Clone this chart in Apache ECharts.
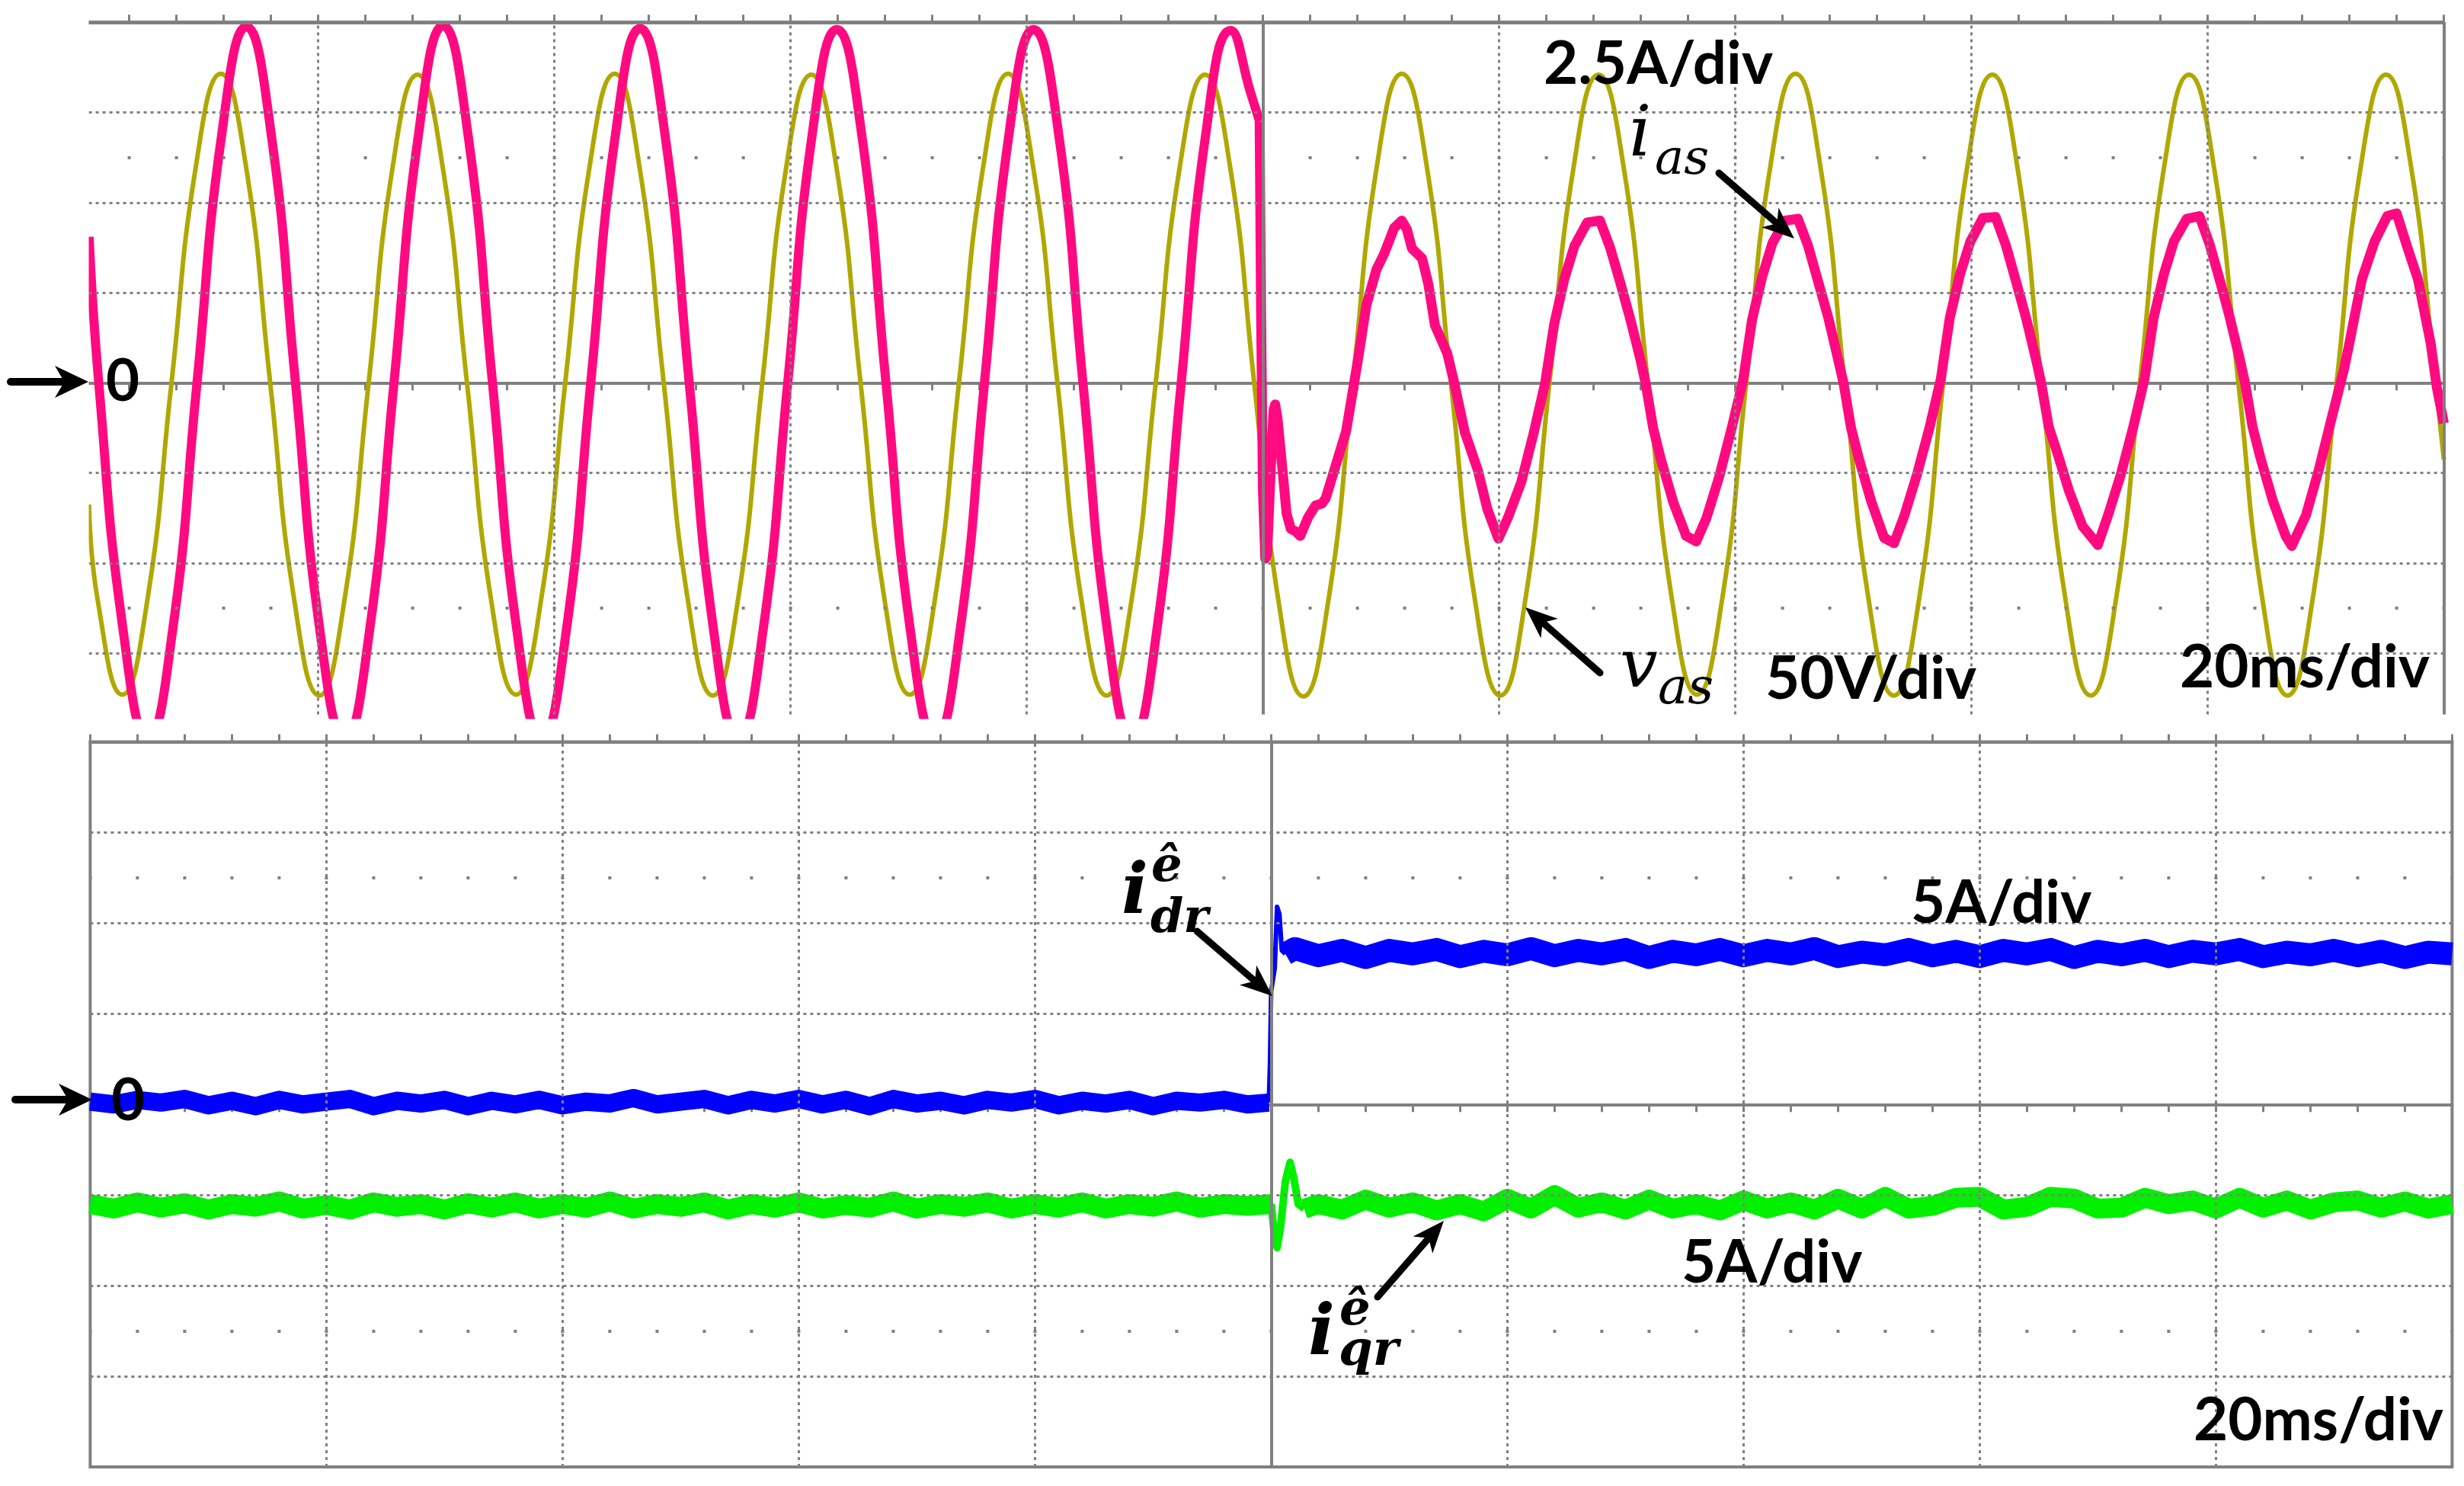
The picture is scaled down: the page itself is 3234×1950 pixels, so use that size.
<!DOCTYPE html>
<html>
<head>
<meta charset="utf-8">
<script src="https://cdn.jsdelivr.net/npm/echarts@6/dist/echarts.min.js"></script>
<style>
html,body{margin:0;padding:0;background:#fff;}
#c{width:3234px;height:1950px;}
</style>
</head>
<body>
<div id="c"></div>
<script>
// ---- data (time in divisions, 20 ms/div; amplitude in divisions) ----
const vasData = [[0.03,-1.35],[0.067,-2.42],
[0.171,-3.46],[0.275,-2.44],[0.379,0.0],[0.484,2.43],[0.588,3.43],[0.692,2.44],[0.796,0.02],[0.900,-2.43],
[1.005,-3.47],[1.109,-2.45],[1.213,-0.02],[1.317,2.42],[1.421,3.42],[1.525,2.43],[1.630,0.0],[1.734,-2.44],
[1.838,-3.46],[1.942,-2.44],[2.046,0.0],[2.151,2.43],[2.255,3.43],[2.359,2.42],[2.463,0.0],[2.567,-2.44],
[2.671,-3.47],[2.775,-2.45],[2.880,0.0],[2.984,2.43],[3.088,3.42],[3.192,2.43],[3.296,0.01],[3.400,-2.44],
[3.505,-3.46],[3.609,-2.44],[3.713,0.0],[3.817,2.42],[3.921,3.43],[4.025,2.43],[4.130,0.0],[4.234,-2.45],
[4.338,-3.47],[4.442,-2.44],[4.546,0.0],[4.650,2.43],[4.755,3.42],[4.859,2.43],[4.963,0.0],[5.067,-2.44],
[5.171,-3.48],[5.275,-2.45],[5.380,0.0],[5.484,2.43],[5.588,3.43],[5.692,2.43],[5.796,0.0],[5.900,-2.45],
[6.005,-3.47],[6.109,-2.44],[6.213,0.0],[6.317,2.42],[6.421,3.42],[6.525,2.43],[6.630,0.0],[6.734,-2.44],
[6.838,-3.46],[6.942,-2.44],[7.046,0.0],[7.150,2.43],[7.255,3.43],[7.359,2.42],[7.463,0.0],[7.567,-2.45],
[7.671,-3.47],[7.775,-2.45],[7.880,0.0],[7.984,2.43],[8.088,3.42],[8.192,2.43],[8.296,0.0],[8.400,-2.44],
[8.505,-3.47],[8.609,-2.45],[8.713,0.0],[8.817,2.42],[8.921,3.42],[9.025,2.42],[9.130,0.0],[9.234,-2.44],
[9.338,-3.47],[9.442,-2.44],[9.546,0.0],[9.650,2.43],[9.755,3.42],[9.859,2.43],[9.963,0.05],[10.0,-0.85]];

const iasBefore = [[0.03,1.62],[0.071,0.0],[0.175,-2.76],
[0.279,-3.95],[0.383,-2.76],[0.487,0.0],[0.592,2.76],[0.696,3.95],[0.800,2.78],[0.904,0.0],[1.008,-2.76],
[1.113,-3.95],[1.217,-2.76],[1.321,0.0],[1.425,2.76],[1.529,3.96],[1.633,2.78],[1.738,0.0],[1.842,-2.76],
[1.946,-3.95],[2.050,-2.76],[2.154,0.0],[2.259,2.76],[2.363,3.93],[2.467,2.78],[2.571,0.0],[2.675,-2.76],
[2.779,-3.95],[2.883,-2.76],[2.988,0.0],[3.092,2.76],[3.196,3.92],[3.300,2.78],[3.404,0.0],[3.508,-2.76],
[3.613,-3.95],[3.717,-2.76],[3.821,0.0],[3.925,2.76],[4.029,3.92],[4.134,2.78],[4.238,0.0],[4.342,-2.76],
[4.446,-3.95],[4.550,-2.76],[4.654,0.0],[4.758,2.76],[4.863,3.91],[4.950,3.2],[4.986,2.9]];

const iasAfter = [[4.986,2.9],[4.992,0.8],[5.000,-1.2],[5.010,-1.95],[5.018,-1.9],[5.031,-1.08],[5.045,-0.3],[5.052,-0.24],[5.062,-0.4],[5.083,-0.97],[5.10,-1.45],[5.118,-1.62],[5.14,-1.65],[5.158,-1.70],[5.19,-1.5],[5.223,-1.36],[5.25,-1.34],[5.266,-1.28],[5.309,-0.91],[5.352,-0.54],[5.38,-0.1],[5.405,0.3],[5.438,0.86],[5.481,1.26],[5.513,1.43],[5.556,1.72],[5.588,1.8],[5.610,1.7],[5.631,1.49],[5.674,1.38],[5.70,1.1],[5.728,0.64],[5.78,0.33],[5.81,0.0],[5.855,-0.55],[5.91,-0.97],[5.95,-1.40],[5.997,-1.73],
[6.04,-1.48],[6.094,-1.1],[6.147,-0.55],[6.195,0.0],[6.233,0.65],[6.276,1.15],[6.319,1.52],[6.373,1.78],[6.427,1.8],[6.47,1.5],[6.512,1.12],[6.556,0.7],[6.599,0.25],[6.62,0.0],[6.652,-0.5],[6.685,-0.85],[6.738,-1.33],[6.792,-1.70],
[6.835,-1.76],[6.878,-1.5],[6.932,-1.04],[6.985,-0.5],[7.033,0.03],[7.071,0.7],[7.114,1.18],[7.157,1.55],[7.211,1.8],[7.265,1.82],[7.308,1.52],[7.35,1.13],[7.394,0.72],[7.437,0.24],[7.458,0.0],[7.49,-0.5],[7.523,-0.84],[7.576,-1.32],[7.63,-1.72],
[7.672,-1.78],[7.715,-1.48],[7.769,-1.02],[7.822,-0.5],[7.87,0.04],[7.908,0.72],[7.951,1.2],[7.994,1.56],[8.048,1.83],[8.102,1.84],[8.145,1.53],[8.187,1.14],[8.231,0.72],[8.274,0.25],[8.295,0.0],[8.327,-0.49],[8.36,-0.75],[8.413,-1.2],[8.47,-1.59],
[8.535,-1.8],[8.578,-1.47],[8.632,-1.02],[8.685,-0.49],[8.733,0.05],[8.771,0.72],[8.814,1.20],[8.857,1.57],[8.911,1.82],[8.965,1.85],[9.008,1.54],[9.05,1.15],[9.094,0.72],[9.137,0.25],[9.158,0.0],[9.19,-0.49],[9.223,-0.83],[9.276,-1.31],[9.33,-1.70],
[9.356,-1.81],[9.416,-1.47],[9.47,-0.97],[9.524,-0.40],[9.578,0.16],[9.60,0.44],[9.653,1.15],[9.707,1.57],[9.76,1.85],[9.80,1.88],[9.847,1.49],[9.89,1.15],[9.944,0.44],[9.97,-0.05],[10.0,-0.45]];

const idrBefore = [[0.0,0.03],[0.1,0.0],[0.2,0.05],[0.3,0.02],[0.4,0.06],[0.5,-0.01],[0.6,0.04],[0.7,-0.02],[0.8,0.05],[0.9,0.0],[1.0,0.03],[1.1,0.06],[1.2,-0.02],[1.3,0.04],[1.4,0.01],[1.5,0.05],[1.6,-0.02],[1.7,0.04],[1.8,0.0],[1.9,0.05],[2.0,-0.01],[2.1,0.03],[2.2,0.01],[2.3,0.07],[2.4,0.0],[2.5,0.03],[2.6,0.06],[2.7,-0.01],[2.8,0.05],[2.9,0.01],[3.0,0.06],[3.1,0.0],[3.2,0.05],[3.3,-0.02],[3.4,0.06],[3.5,0.01],[3.6,0.04],[3.7,-0.01],[3.8,0.05],[3.9,0.02],[4.0,0.06],[4.1,-0.01],[4.2,0.04],[4.3,0.01],[4.4,0.05],[4.5,-0.02],[4.6,0.04],[4.7,0.02],[4.8,0.05],[4.9,0.0],[4.99,0.02]];
const idrStep = [[4.99,0.02],[4.995,0.45],[5.0,1.25],[5.015,1.5],[5.025,2.18],[5.035,2.1],[5.045,1.7],[5.06,1.66]];
const idrAfter = [[5.06,1.66],[5.1,1.72],[5.2,1.64],[5.3,1.7],[5.4,1.62],[5.5,1.7],[5.6,1.66],[5.7,1.71],[5.8,1.63],[5.9,1.69],[6.0,1.65],[6.1,1.72],[6.2,1.64],[6.3,1.7],[6.4,1.66],[6.5,1.71],[6.6,1.62],[6.7,1.69],[6.8,1.65],[6.9,1.71],[7.0,1.64],[7.1,1.7],[7.2,1.66],[7.3,1.72],[7.4,1.63],[7.5,1.68],[7.6,1.65],[7.7,1.71],[7.8,1.64],[7.9,1.69],[8.0,1.63],[8.1,1.7],[8.2,1.66],[8.3,1.71],[8.4,1.62],[8.5,1.69],[8.6,1.65],[8.7,1.7],[8.8,1.63],[8.9,1.69],[9.0,1.66],[9.1,1.71],[9.2,1.63],[9.3,1.68],[9.4,1.65],[9.5,1.7],[9.6,1.64],[9.7,1.69],[9.8,1.62],[9.9,1.68],[10.0,1.66]];

const iqrBefore = [[0.0,-1.1],[0.1,-1.15],[0.2,-1.08],[0.3,-1.14],[0.4,-1.09],[0.5,-1.16],[0.6,-1.1],[0.7,-1.13],[0.8,-1.07],[0.9,-1.15],[1.0,-1.11],[1.1,-1.16],[1.2,-1.08],[1.3,-1.13],[1.4,-1.1],[1.5,-1.16],[1.6,-1.09],[1.7,-1.14],[1.8,-1.08],[1.9,-1.15],[2.0,-1.1],[2.1,-1.14],[2.2,-1.07],[2.3,-1.15],[2.4,-1.1],[2.5,-1.13],[2.6,-1.08],[2.7,-1.16],[2.8,-1.1],[2.9,-1.14],[3.0,-1.08],[3.1,-1.15],[3.2,-1.11],[3.3,-1.14],[3.4,-1.07],[3.5,-1.15],[3.6,-1.1],[3.7,-1.13],[3.8,-1.08],[3.9,-1.15],[4.0,-1.1],[4.1,-1.14],[4.2,-1.08],[4.3,-1.15],[4.4,-1.1],[4.5,-1.13],[4.6,-1.07],[4.7,-1.14],[4.8,-1.1],[4.9,-1.12],[5.0,-1.1]];
const iqrStep = [[5.0,-1.1],[5.012,-1.4],[5.025,-1.58],[5.04,-1.35],[5.06,-0.85],[5.08,-0.64],[5.095,-0.8],[5.115,-1.1],[5.14,-1.15]];
const iqrAfter = [[5.14,-1.15],[5.2,-1.1],[5.3,-1.16],[5.4,-1.05],[5.5,-1.14],[5.6,-1.08],[5.7,-1.17],[5.8,-1.1],[5.9,-1.18],[6.0,-1.04],[6.1,-1.15],[6.2,-1.0],[6.3,-1.14],[6.4,-1.08],[6.5,-1.16],[6.6,-1.05],[6.7,-1.15],[6.8,-1.1],[6.9,-1.17],[7.0,-1.06],[7.1,-1.15],[7.2,-1.08],[7.3,-1.16],[7.4,-1.04],[7.5,-1.15],[7.6,-1.02],[7.7,-1.15],[7.8,-1.12],[7.9,-1.03],[8.0,-1.02],[8.1,-1.16],[8.2,-1.13],[8.3,-1.02],[8.4,-1.04],[8.5,-1.15],[8.6,-1.14],[8.7,-1.03],[8.8,-1.1],[8.9,-1.06],[9.0,-1.15],[9.1,-1.03],[9.2,-1.14],[9.3,-1.06],[9.4,-1.16],[9.5,-1.08],[9.6,-1.06],[9.7,-1.14],[9.8,-1.07],[9.9,-1.15],[10.0,-1.1]];

const gridDivX = [1,2,3,4,6,7,8,9];
const gridDivY = [3,2,1,-1,-2,-3];
const dotRowsY = [2.5,-2.5];

// ---- styles ----
const GRAY = '#808080';
const C_V = '#B0A800', C_I = '#FF0A80', C_D = '#0000FF', C_Q = '#00F000';

function gridLines(extra){
  const d=[];
  gridDivX.forEach(v=>d.push({xAxis:v}));
  gridDivY.forEach(v=>d.push({yAxis:v}));
  dotRowsY.forEach(v=>d.push({yAxis:v, lineStyle:{type:[4,58], dashOffset:2, width:4}}));
  d.push({xAxis:5, lineStyle:{type:'solid', width:4}});
  return d.concat(extra||[]);
}
function frameSeries(xi, yi, extra){
  return {type:'line', xAxisIndex:xi, yAxisIndex:yi, data:[[5,0]], showSymbol:false, symbol:'none',
    lineStyle:{opacity:0}, z:1, silent:true,
    markLine:{symbol:['none','none'], silent:true, animation:false, label:{show:false},
      emphasis:{disabled:true}, lineStyle:{color:GRAY, width:3, type:[4,5]}, data:gridLines(extra)}};
}
function trace(xi, yi, data, color, width, smooth, z){
  return {type:'line', xAxisIndex:xi, yAxisIndex:yi, data:data, showSymbol:false, symbol:'none',
    smooth:smooth, clip:true, z:z, silent:true, lineStyle:{color:color, width:width, join:'round'}};
}
function xAx(gi, pos){
  return {type:'value', gridIndex:gi, min:0, max:10, interval:1, position:pos,
    axisLine:{show:true, onZero:true, lineStyle:{color:GRAY, width:4}},
    axisTick:{show:true, length:10, lineStyle:{color:GRAY, width:3}},
    minorTick:{show:true, splitNumber:5, length:10, lineStyle:{color:GRAY, width:3}},
    axisLabel:{show:false}, splitLine:{show:false}, minorSplitLine:{show:false}};
}
function yAx(gi, mn, mx){
  return {type:'value', gridIndex:gi, min:mn, max:mx, axisLine:{show:false}, axisTick:{show:false},
    axisLabel:{show:false}, splitLine:{show:false}};
}

// annotation helpers (layout only)
function arrow(x1,y1,x2,y2,w,hl,hw){
  const dx=x2-x1, dy=y2-y1, L=Math.hypot(dx,dy), ux=dx/L, uy=dy/L, px=-uy, py=ux;
  const bx=x2-ux*hl, by=y2-uy*hl, nx=x2-ux*hl*0.72, ny=y2-uy*hl*0.72;
  return [
    {type:'line', shape:{x1:x1,y1:y1,x2:nx,y2:ny}, style:{stroke:'#000', lineWidth:w, lineCap:'round'}, z:100},
    {type:'polygon', shape:{points:[[x2,y2],[bx+px*hw,by+py*hw],[nx,ny],[bx-px*hw,by-py*hw]]}, style:{fill:'#000'}, z:100}
  ];
}
function txt(x,y,text,font,align){
  return {type:'text', x:x, y:y, z:101, style:{text:text, font:font, fill:'#000',
    textAlign:align||'left', textVerticalAlign:'middle'}};
}
const F_LBL = 'bold 78px Lato';
const F_ZERO = 'bold 76px Lato';
const SERIF = '"DejaVu Serif"';

const graphics = [].concat(
  // the scope capture of the upper panel starts slightly right of its first division
  [{type:'rect', shape:{x:96, y:18, width:20.5, height:925}, style:{fill:'#ffffff'}, z:50, silent:true}],
  arrow(14,501,116,501,10,44,21),
  arrow(20,1443,121,1443,10,44,21),
  arrow(2256,227,2355,313,9,42,17),
  arrow(2100,883,2002,797,9,42,17),
  arrow(1571,1222,1670,1307,9,42,17),
  arrow(1808,1702,1895,1602,9,42,17),
  [
    txt(161,501,'0',F_ZERO,'center'),
    txt(168,1445,'0',F_ZERO,'center'),
    txt(2026,85,'2.5A/div',F_LBL),
    txt(2317,892,'50V/div',F_LBL),
    txt(2861,877,'20ms/div',F_LBL),
    txt(2879,1865,'20ms/div',F_LBL),
    txt(2508,1186,'5A/div',F_LBL),
    txt(2207,1658,'5A/div',F_LBL),
    txt(2138,180,'i','italic 92px '+SERIF), txt(2172,211,'as','italic 64px '+SERIF),
    txt(2126,878,'v','italic 88px '+SERIF), txt(2176,906,'as','italic 66px '+SERIF),
    txt(1472,1174,'i','bold italic 92px '+SERIF), txt(1511,1139,'ê','bold italic 64px '+SERIF), txt(1510,1207,'dr','bold italic 62px '+SERIF),
    txt(1717,1753,'i','bold italic 92px '+SERIF), txt(1758,1721,'ê','bold italic 64px '+SERIF), txt(1757,1774,'qr','bold italic 64px '+SERIF)
  ]
);

const chart = echarts.init(document.getElementById('c'), null, {renderer:'canvas'});
chart.setOption({
  animation:false,
  backgroundColor:'#ffffff',
  grid:[
    {left:107.6, top:29.3, width:3100, height:908.2, show:false, outerBoundsMode:'none'},
    {left:118.4, top:973.5, width:3100, height:951.5, show:true, borderColor:GRAY, borderWidth:4, backgroundColor:'transparent', outerBoundsMode:'none'}
  ],
  xAxis:[xAx(0,'bottom'), xAx(0,'top'), xAx(1,'bottom'), xAx(1,'top')],
  yAxis:[yAx(0,-3.68,4), yAx(1,-4,4)],
  series:[
    frameSeries(0,0,[{yAxis:4, lineStyle:{type:'solid', width:5}},{xAxis:10, lineStyle:{type:'solid', width:4}}]),
    trace(0,0,vasData,C_V,6,0.5,3),
    trace(0,0,iasBefore,C_I,12,0.5,4),
    trace(0,0,iasAfter,C_I,13,false,4),
    frameSeries(2,1,[]),
    trace(2,1,idrBefore,C_D,24,false,3),
    trace(2,1,idrStep,C_D,6,false,3),
    trace(2,1,idrAfter,C_D,30,false,3),
    trace(2,1,iqrBefore,C_Q,26,false,3),
    trace(2,1,iqrStep,C_Q,10,false,3),
    trace(2,1,iqrAfter,C_Q,26,false,3)
  ],
  graphic:graphics
});
</script>
</body>
</html>
